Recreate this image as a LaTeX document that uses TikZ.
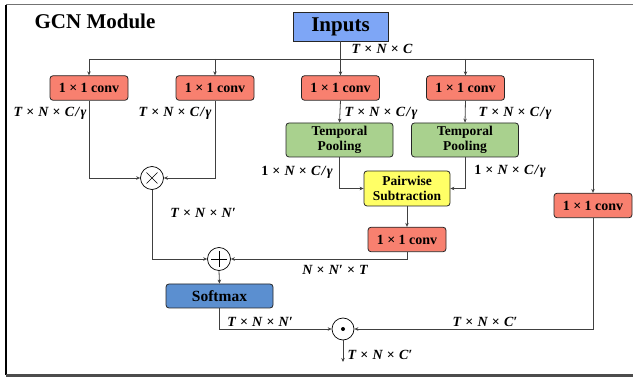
\documentclass[tikz,border=0pt]{standalone}
\usepackage{fontspec}
\setmainfont{Liberation Serif}
\usetikzlibrary{arrows.meta,calc}
\definecolor{convred}{HTML}{F8806F}
\definecolor{poolgreen}{HTML}{A9D18E}
\definecolor{pairyellow}{HTML}{FFFF66}
\definecolor{smblue}{HTML}{5B8FD0}
\definecolor{inblue}{HTML}{7EA6F6}
\definecolor{wire}{HTML}{404040}
\newcommand{\tm}{\hspace{0.3em}{\upshape\bfseries ×}\hspace{0.3em}}
\newcommand{\oversl}{\hspace{0.08em}/\hspace{0.1em}}
\tikzset{
  blk/.style={draw=black!85, line width=0.8pt, rounded corners=3pt, align=center,
    font=\bfseries\fontsize{13.5}{15.5}\selectfont, inner sep=0pt},
  convbox/.style={blk, fill=convred, minimum width=78pt, minimum height=24.5pt,
    font=\bfseries\fontsize{14}{16}\selectfont},
  poolbox/.style={blk, fill=poolgreen, minimum width=107pt, minimum height=34pt},
  pairbox/.style={blk, fill=pairyellow, minimum width=86pt, minimum height=35pt},
  smbox/.style={blk, fill=smblue, minimum width=107pt, minimum height=24pt,
    font=\bfseries\fontsize{15.5}{18}\selectfont},
  opcirc/.style={circle, draw=black, line width=0.7pt, fill=white, minimum size=23pt, inner sep=0pt},
  wr/.style={draw=wire, line width=0.8pt},
  ar/.style={wr, -{Stealth[length=4pt,width=3.5pt]}},
  dim/.style={font=\bfseries\itshape\fontsize{14}{16}\selectfont, inner sep=0pt}
}
\begin{document}
\begin{tikzpicture}[x=1pt,y=-1pt]
\useasboundingbox (0,0) rectangle (633,377);
% frame
\draw[gray!90!black, line width=1pt] (6,5) -- (633,5);
\draw[black, line width=1.2pt] (6,5) -- (6,375);
\draw[black!70, line width=3pt] (6,375.5) -- (633,375.5);
\node[font=\bfseries\fontsize{21}{24}\selectfont, inner sep=0pt] (title) at (95,21) {GCN Module};

% blocks
\node[draw=black!85, line width=0.8pt, fill=inblue, minimum width=95pt, minimum height=29pt,
      inner sep=0pt, font=\bfseries\fontsize{21}{24}\selectfont] (inp) at (340.5,26.5) {Inputs};
\node[convbox] (c1) at (89,88) {1 × 1 conv};
\node[convbox] (c2) at (215,88) {1 × 1 conv};
\node[convbox] (c3) at (340.5,88) {1 × 1 conv};
\node[convbox] (c4) at (465.5,88) {1 × 1 conv};
\node[convbox] (c5) at (593,205.5) {1 × 1 conv};
\node[poolbox] (tp1) at (339.5,140) {Temporal\\Pooling};
\node[poolbox] (tp2) at (465,140) {Temporal\\Pooling};
\node[pairbox] (pw) at (407,188.5) {Pairwise\\Subtraction};
\node[convbox] (c6) at (407,239.5) {1 × 1 conv};
\node[smbox] (sm) at (219.5,296) {Softmax};
\node[opcirc] (mul) at (152,178) {};
\node[opcirc] (add) at (219,259) {};
\node[opcirc, minimum size=22pt] (dot) at (343,329) {};
\draw[line width=0.7pt] ($(mul.center)+(-5.5,-5.5)$) -- ($(mul.center)+(5.5,5.5)$)
  ($(mul.center)+(-5.5,5.5)$) -- ($(mul.center)+(5.5,-5.5)$);
\draw[line width=0.9pt] ($(add.center)+(-8,0)$) -- ($(add.center)+(8,0)$)
  ($(add.center)+(0,-8)$) -- ($(add.center)+(0,8)$);
\fill (dot.center) circle (2pt);

% distribution line from the inputs
\coordinate (split) at (340.5,59);
\coordinate (lft) at (89,59);
\coordinate (rgt) at (593,59);
\draw[wr] (inp.south) -- (split);
\draw[wr] (lft) -- (rgt);
\draw[ar] (lft) -- (c1.north);
\draw[ar] (215,59) -- (c2.north);
\draw[ar] (split) -- (c3.north);
\draw[ar] (465.5,59) -- (c4.north);
\draw[ar] (rgt) -- (c5.north);

% affinity branch
\draw[ar] (c1.south) |- (mul.west);
\draw[ar] (c2.south) |- (mul.east);
\draw[ar] (c3.south) -- (tp1.north);
\draw[ar] (c4.south) -- (tp2.north);
\draw[ar] (tp1.south) |- (pw.west);
\draw[ar] (tp2.south) |- (pw.east);
\draw[ar] (pw.south) -- (c6.north);
\draw[ar] (mul.south) |- (add.west);
\draw[ar] (c6.south) |- (add.east);
\draw[ar] (add.south) -- (sm.north);
\draw[ar] (sm.south) |- (dot.west);
\draw[ar] (c5.south) |- (dot.east);
\coordinate (out) at (343,362);
\draw[ar] (dot.south) -- (out);

% tensor shapes
\node[dim] (l0) at (382,49) {T\tm N\tm C};
\node[dim] (l1) at (50,113) {T\tm N\tm C\oversl γ};
\node[dim] (l2) at (175,113) {T\tm N\tm C\oversl γ};
\node[dim] (l3) at (381,113) {T\tm N\tm C\oversl γ};
\node[dim] (l4) at (515,113) {T\tm N\tm C\oversl γ};
\node[dim] (l5) at (297,172) {{\upshape 1}\tm N\tm C\oversl γ};
\node[dim] (l6) at (510,171) {{\upshape 1}\tm N\tm C\oversl γ};
\node[dim] (l7) at (203,213) {T\tm N\tm N′};
\node[dim] (l8) at (335,270) {N\tm N′\tm T};
\node[dim] (l9) at (260,322) {T\tm N\tm N′};
\node[dim] (l10) at (485,322) {T\tm N\tm C′};
\node[dim] (l11) at (380,355) {T\tm N\tm C′};
\end{tikzpicture}
\end{document}
